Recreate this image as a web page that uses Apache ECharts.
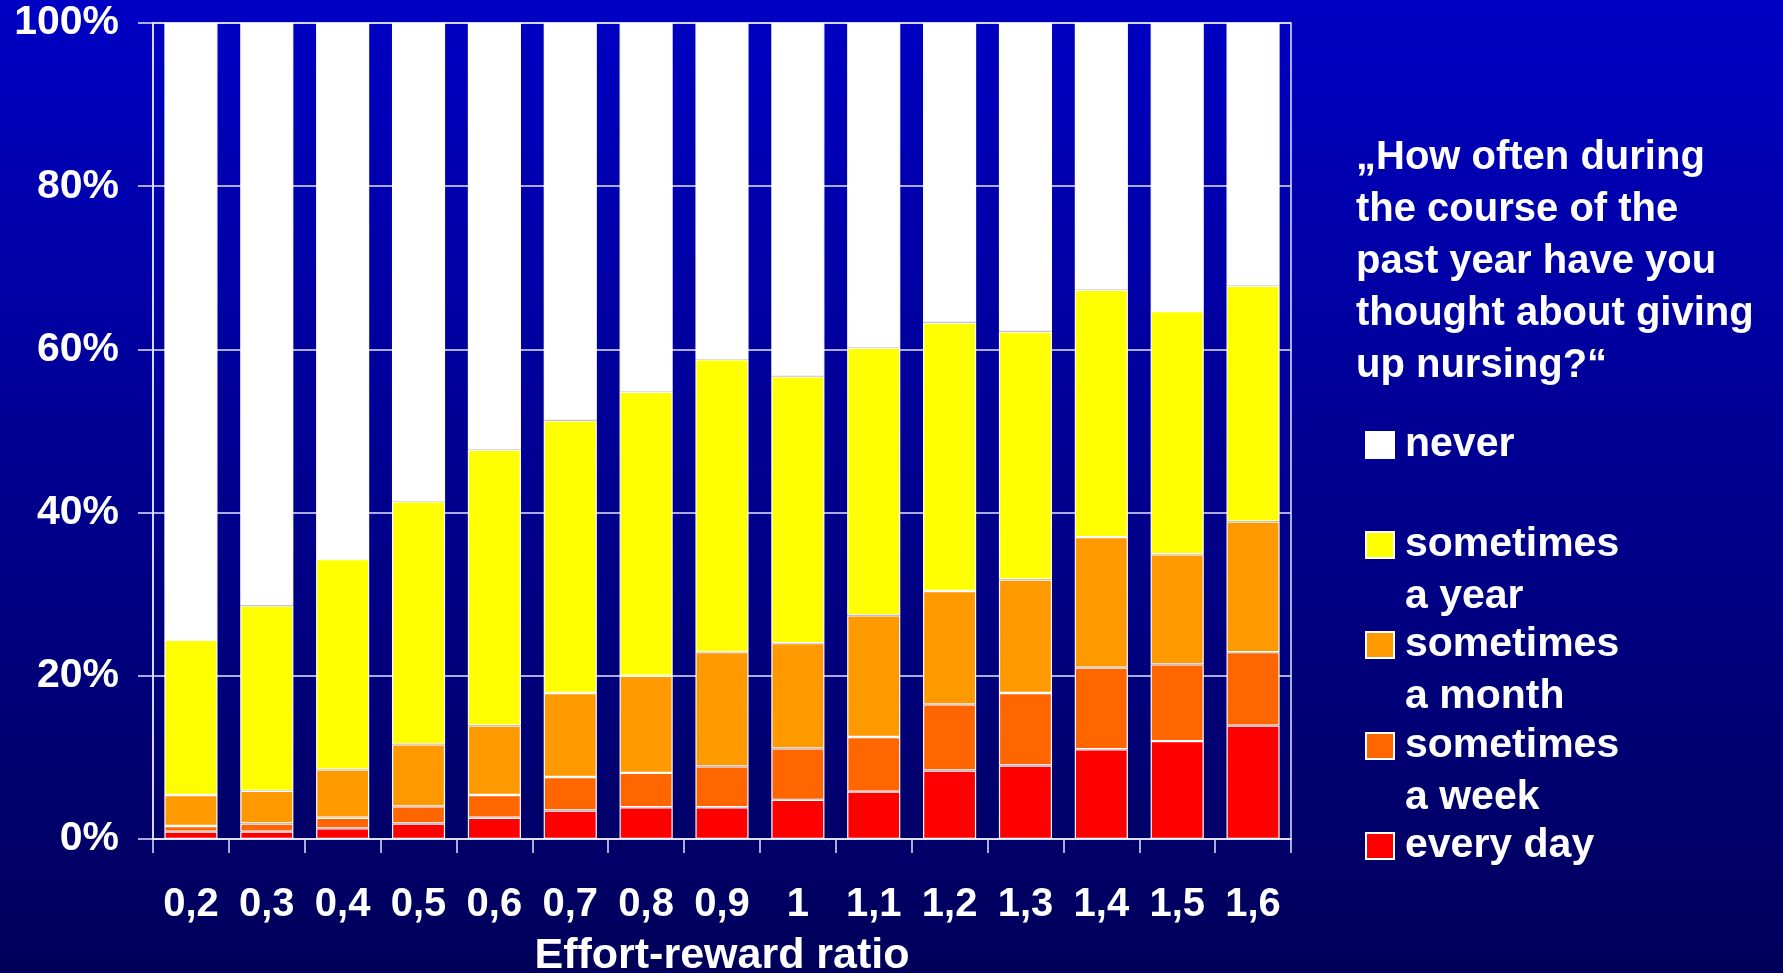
<!DOCTYPE html>
<html>
<head>
<meta charset="utf-8">
<title>Effort-reward ratio and thoughts of giving up nursing</title>
<script src="https://cdn.jsdelivr.net/npm/echarts@6/dist/echarts.min.js"></script>
<style>
  html, body { margin: 0; padding: 0; width: 1783px; height: 973px; overflow: hidden; }
  #chart { width: 1783px; height: 973px; }
</style>
</head>
<body>
<div id="chart"></div>
<script>
// Effort-reward ratio groups (x axis)
const categories = ['0,2', '0,3', '0,4', '0,5', '0,6', '0,7', '0,8', '0,9', '1', '1,1', '1,2', '1,3', '1,4', '1,5', '1,6'];

// Share of respondents (%) per answer, stacked bottom to top
const everyDay        = [0.9, 0.9, 1.3, 1.9, 2.6, 3.5, 3.9, 3.9, 4.8, 5.8, 8.4, 9.0, 11.0, 12.0, 13.9];
const sometimesWeek   = [0.7, 1.0, 1.3, 2.1, 2.8, 4.1, 4.2, 5.0, 6.3, 6.7, 8.1, 8.9, 10.0, 9.4, 9.0];
const sometimesMonth  = [3.8, 4.0, 5.9, 7.6, 8.5, 10.3, 11.9, 14.0, 12.9, 14.9, 13.9, 13.9, 16.0, 13.5, 16.0];
const sometimesYear   = [19.0, 22.7, 25.8, 29.8, 33.8, 33.4, 34.8, 35.9, 32.7, 32.8, 32.9, 30.4, 30.3, 29.8, 28.9];
const never           = [75.6, 71.4, 65.7, 58.6, 52.3, 48.7, 45.2, 41.2, 43.3, 39.8, 36.7, 37.8, 32.7, 35.3, 32.2];

// Y axis tick values
const yTicks = [0, 20, 40, 60, 80, 100];

const questionText = '\u201EHow often during\nthe course of the\npast year have you\nthought about giving\nup nursing?\u201C';

const FONT = "'Liberation Sans', Arial, Helvetica, sans-serif";
const LINE = '#E4E4FF';

const seriesDefs = [
  { name: 'every day',         label: 'every day',          data: everyDay,       color: '#FF0000' },
  { name: 'sometimes a week',  label: 'sometimes\na week',  data: sometimesWeek,  color: '#FF6600' },
  { name: 'sometimes a month', label: 'sometimes\na month', data: sometimesMonth, color: '#FF9900' },
  { name: 'sometimes a year',  label: 'sometimes\na year',  data: sometimesYear,  color: '#FFFF00' },
  { name: 'never',             label: 'never',              data: never,          color: '#FFFFFF' }
];

// Legend entries, top to bottom, with the vertical centre of each swatch
const legendSlots = [
  { name: 'never', y: 442 },
  { name: 'sometimes a year', y: 542 },
  { name: 'sometimes a month', y: 642 },
  { name: 'sometimes a week', y: 743 },
  { name: 'every day', y: 843 }
];

const labelOf = {};
seriesDefs.forEach(s => { labelOf[s.name] = s.label; });

const LEGEND_LINE = 52;

// Two-line labels get an empty leading line so that the first
// printed line sits level with the swatch and the second hangs below it.
const legends = legendSlots.map(slot => {
  const twoLines = labelOf[slot.name].indexOf('\n') >= 0;
  return {
    data: [slot.name],
    orient: 'vertical',
    left: 1365,
    top: twoLines ? slot.y - LEGEND_LINE - 23 : slot.y - 23,
    padding: 0,
    itemWidth: 28,
    itemHeight: 26,
    icon: 'rect',
    selectedMode: false,
    formatter: name => (twoLines ? '\n' : '') + labelOf[name],
    textStyle: {
      color: '#FFFFFF',
      fontFamily: FONT,
      fontWeight: 'bold',
      fontSize: 41,
      lineHeight: LEGEND_LINE,
      padding: [0, 0, 0, 6]
    }
  };
});

const chart = echarts.init(document.getElementById('chart'), null, { renderer: 'canvas' });

chart.setOption({
  animation: false,
  backgroundColor: {
    type: 'linear', x: 0, y: 0, x2: 0, y2: 1,
    colorStops: [
      { offset: 0, color: '#0000C4' },
      { offset: 1, color: '#00005A' }
    ]
  },
  title: {
    text: questionText,
    left: 1356,
    top: 132,
    padding: 0,
    textStyle: {
      color: '#FFFFFF',
      fontFamily: FONT,
      fontWeight: 'bold',
      fontSize: 40,
      lineHeight: 52
    }
  },
  legend: legends,
  grid: {
    left: 153,
    right: 492,
    top: 23,
    bottom: 134,
    outerBoundsMode: 'none',
    containLabel: false,
    show: true,
    borderColor: LINE,
    borderWidth: 1.5,
    backgroundColor: 'transparent'
  },
  xAxis: {
    type: 'category',
    data: categories,
    name: 'Effort-reward ratio',
    nameLocation: 'middle',
    nameGap: 96,
    nameTextStyle: {
      color: '#FFFFFF',
      fontFamily: FONT,
      fontWeight: 'bold',
      fontSize: 43
    },
    axisLine: { lineStyle: { color: LINE, width: 1.5 } },
    axisTick: { show: true, length: 14, lineStyle: { color: LINE, width: 1.5 } },
    axisLabel: {
      color: '#FFFFFF',
      fontFamily: FONT,
      fontWeight: 'bold',
      fontSize: 40,
      margin: 46,
      interval: 0
    }
  },
  yAxis: {
    type: 'value',
    min: yTicks[0],
    max: yTicks[yTicks.length - 1],
    interval: yTicks[1] - yTicks[0],
    axisLine: { show: true, lineStyle: { color: LINE, width: 1.5 } },
    axisTick: { show: true, length: 15, lineStyle: { color: LINE, width: 1.5 } },
    splitLine: { show: true, lineStyle: { color: LINE, width: 1.5 } },
    axisLabel: {
      color: '#FFFFFF',
      fontFamily: FONT,
      fontWeight: 'bold',
      fontSize: 41,
      margin: 34,
      formatter: '{value}%'
    }
  },
  series: seriesDefs.map(s => ({
    name: s.name,
    type: 'bar',
    stack: 'share',
    data: s.data,
    barCategoryGap: '30%',
    itemStyle: {
      color: s.color,
      borderColor: '#FFFFFF',
      borderWidth: 1.2
    },
    emphasis: { disabled: true }
  }))
});
</script>
</body>
</html>
